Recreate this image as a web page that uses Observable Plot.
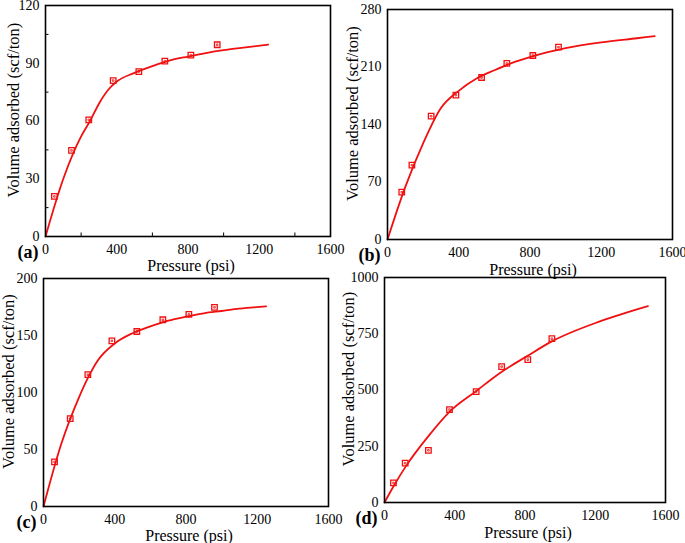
<!DOCTYPE html>
<html>
<head>
<meta charset="utf-8">
<script src="https://cdn.jsdelivr.net/npm/d3@7"></script>
<script src="https://cdn.jsdelivr.net/npm/@observablehq/plot@0.6"></script>
<style>
  html, body { margin: 0; padding: 0; background: #fff; }
  #chart { position: relative; width: 685px; height: 543px; overflow: hidden; background: #fff; font-family: 'Liberation Serif', serif; }
</style>
</head>
<body>
<div id="chart"></div>
<script>
// ---- Data ----
const xTicks = [0, 400, 800, 1200, 1600];
const xMinorTicks = [200, 600, 1000, 1400];

// Panel (a)
const pressureA = [50, 146, 243, 380, 524, 670, 816, 964];
const volumeA = [20.8, 44.7, 60.6, 81.0, 85.7, 91.1, 94.2, 99.6];
const fitPressureA = [0, 100, 200, 250, 300, 350, 400, 500, 600, 700, 800, 900, 1000, 1100, 1250];
const fitVolumeA = [0, 30, 52, 60, 69, 76, 80.5, 85, 88.5, 91.5, 93.5, 95.3, 96.8, 98, 99.7];
const yTicksA = [0, 30, 60, 90, 120];
const yMinorA = [15, 45, 75, 105];

// Panel (b)
const pressureB = [80, 137, 245, 384, 528, 670, 816, 960];
const volumeB = [57.6, 90.5, 150.1, 175.7, 197.2, 214.3, 224, 234.1];
const fitPressureB = [0, 100, 200, 300, 400, 500, 600, 700, 800, 900, 1000, 1200, 1400, 1500];
const fitVolumeB = [0, 64, 117, 160, 181, 196, 206, 215, 222, 228, 233, 240, 245, 247.5];
const yTicksB = [0, 70, 140, 210, 280];

// Panel (c)
const pressureC = [62, 150, 249, 384, 524, 670, 816, 960];
const volumeC = [39.1, 77.1, 115.6, 145.3, 153.5, 163.8, 168.5, 174.7];
const fitPressureC = [0, 100, 200, 250, 300, 400, 500, 600, 700, 800, 900, 1000, 1100, 1250];
const fitVolumeC = [0, 55, 96, 113, 127, 143, 152, 158, 163, 166.5, 169.5, 171.5, 173.5, 175.6];
const yTicksC = [0, 50, 100, 150, 200];

// Panel (d)
const pressureD = [51, 118, 250, 370, 522, 667, 816, 953];
const volumeD = [87, 175, 232, 413, 493, 604, 635, 728];
const fitPressureD = [0, 50, 125, 250, 370, 520, 670, 815, 950, 1230, 1500];
const fitVolumeD = [0, 70, 165, 295, 403, 494, 582, 652, 715, 806, 873];
const yTicksD = [0, 250, 500, 750, 1000];

const panelLabels = ["(a)", "(b)", "(c)", "(d)"];
const xLabel = "Pressure (psi)";
const yLabel = "Volume adsorbed (scf/ton)";

// ---- Layout ----
const panels = [
  { px: pressureA, pv: volumeA, fx: fitPressureA, fv: fitVolumeA, yTicks: yTicksA, yMinor: yMinorA,
    label: panelLabels[0], box: [0, 0, 342, 272], frame: [45, 5, 330, 236], yLabDx: -32, xLabDy: 29.5 },
  { px: pressureB, pv: volumeB, fx: fitPressureB, fv: fitVolumeB, yTicks: yTicksB, yMinor: null,
    label: panelLabels[1], box: [342, 0, 343, 272], frame: [387, 9, 672, 239], yLabDx: -35, xLabDy: 30.5 },
  { px: pressureC, pv: volumeC, fx: fitPressureC, fv: fitVolumeC, yTicks: yTicksC, yMinor: null,
    label: panelLabels[2], box: [0, 272, 342, 271], frame: [43, 278, 328, 506], yLabDx: -35, xLabDy: 29.5 },
  { px: pressureD, pv: volumeD, fx: fitPressureD, fv: fitVolumeD, yTicks: yTicksD, yMinor: null,
    label: panelLabels[3], box: [342, 272, 343, 271], frame: [384, 277, 665, 502], yLabDx: -36, xLabDy: 30.5 }
];

const container = document.getElementById("chart");
const red = "#f01010";

for (const p of panels) {
  const [bx, by, bw, bh] = p.box;
  const [fl, ft, fr, fb] = p.frame;
  const pts = p.px.map((x, i) => ({ x, y: p.pv[i] }));
  const fit = p.fx.map((x, i) => ({ x, y: p.fv[i] }));
  const innerW = fr - fl, innerH = fb - ft;
  const yMax = p.yTicks[p.yTicks.length - 1];
  const marks = [
    Plot.axisX({ ticks: xTicks, tickSize: 0, tickPadding: 8, label: null, tickFormat: d => String(d) }),
    Plot.axisY({ ticks: p.yTicks, tickSize: 0, tickPadding: 6, label: null, tickFormat: d => String(d) }),
  ];
  if (p.yMinor) {
    marks.push(Plot.tickX(xMinorTicks, { x: d => d, insetTop: innerH - 3.5, stroke: "black", strokeWidth: 1 }));
    marks.push(Plot.tickY(p.yMinor, { y: d => d, insetRight: innerW - 3.5, stroke: "black", strokeWidth: 1 }));
  }
  marks.push(
    Plot.line(fit, { x: "x", y: "y", curve: "monotone-x", stroke: red, strokeWidth: 1.8 }),
    Plot.dot(pts, { x: "x", y: "y", symbol: "square", r: 3.1, stroke: red, fill: "none", strokeWidth: 1.3 }),
    Plot.dot(pts, { x: "x", y: "y", symbol: "square", r: 0.9, stroke: red, fill: "none", strokeWidth: 0.8 }),
    Plot.frame({ stroke: "black", strokeWidth: 1.6 }),
    Plot.text([xLabel], { frameAnchor: "bottom", textAnchor: "middle", lineAnchor: "middle", dy: p.xLabDy, dx: 3, fontSize: 16 }),
    Plot.text([yLabel], { frameAnchor: "left", textAnchor: "middle", lineAnchor: "middle", rotate: -90, dx: p.yLabDx, dy: -11, fontSize: 16.5 }),
    Plot.text([p.label], { frameAnchor: "bottom-left", textAnchor: "end", lineAnchor: "middle", dx: -7, dy: 16, fontWeight: "bold", fontSize: 18 })
  );
  const svg = Plot.plot({
    width: bw,
    height: bh,
    marginLeft: fl - bx,
    marginTop: ft - by,
    marginRight: bx + bw - fr,
    marginBottom: by + bh - fb,
    style: "font-family:'Liberation Serif';font-size:14px;color:black;background:transparent;overflow:visible;position:absolute;left:" + bx + "px;top:" + by + "px;",
    x: { domain: [0, 1600] },
    y: { domain: [0, yMax] },
    marks
  });
  container.appendChild(svg);
}
</script>
</body>
</html>
